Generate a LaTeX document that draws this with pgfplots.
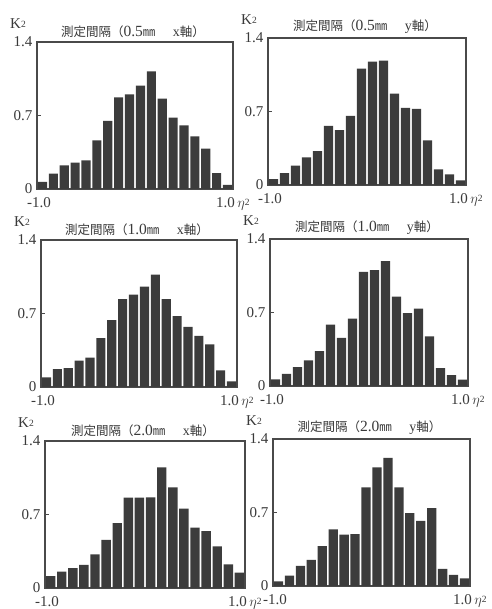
\documentclass[border=0pt]{standalone}
\usepackage{fontspec}
\setmainfont{Liberation Serif}
\newfontfamily\cjk{Noto Sans CJK JP}
\usepackage{pgfplots}
\usepackage{pgfplotstable}
\pgfplotsset{compat=1.18}
\definecolor{barc}{HTML}{3C3C3C}
\definecolor{framec}{HTML}{4A4A4A}
\definecolor{txtc}{HTML}{3A3A3A}

\pgfplotstableread{
x       a     b     c     d     e     f
-0.944  0.067 0.057 0.092 0.063 0.114 0.044
-0.833  0.146 0.114 0.171 0.116 0.155 0.098
-0.722  0.225 0.184 0.180 0.179 0.190 0.192
-0.611  0.250 0.263 0.250 0.245 0.220 0.249
-0.500  0.273 0.323 0.279 0.333 0.320 0.379
-0.389  0.463 0.564 0.466 0.585 0.459 0.539
-0.278  0.648 0.523 0.637 0.459 0.617 0.489
-0.167  0.873 0.659 0.836 0.642 0.861 0.495
-0.056  0.900 1.109 0.880 1.088 0.861 0.940
 0.056  0.984 1.175 0.957 1.104 0.864 1.129
 0.167  1.120 1.185 1.070 1.189 1.149 1.221
 0.278  0.860 0.871 0.836 0.852 0.959 0.940
 0.389  0.680 0.735 0.675 0.695 0.756 0.694
 0.500  0.606 0.725 0.573 0.736 0.576 0.621
 0.611  0.500 0.424 0.488 0.472 0.541 0.741
 0.722  0.384 0.149 0.405 0.170 0.396 0.164
 0.833  0.152 0.101 0.158 0.104 0.225 0.107
 0.944  0.040 0.044 0.054 0.060 0.146 0.073
}\data

\pgfplotsset{panel/.style={
  scale only axis, height=147pt,
  xmin=-1, xmax=1, ymin=0, ymax=1.4,
  ytick={0,0.7,1.4}, yticklabels={0,0.7,1.4},
  xtick=\empty,
  ytick pos=left, tick align=inside, major tick length=4pt,
  axis line style={framec, line width=1.1pt},
  tick style={framec, line width=0.9pt},
  ticklabel style={font=\fontsize{15}{15}\selectfont, text=txtc},
  yticklabel style={xshift=-1pt},
  ybar, bar width=0.094,
  clip=false,
}}
\newcommand{\ttlbody}[2]{\cjk 測定間隔（{\rmfamily\fontsize{15.5}{15}\selectfont #1}㎜\hspace{1.4em}{\rmfamily\fontsize{14}{14}\selectfont #2}軸）}
\newcommand{\ttl}[2]{\node[anchor=south, inner sep=0pt, text=txtc, font=\fontsize{12.5}{14}\selectfont] at (rel axis cs:0.5,1) [xshift=-2pt, yshift=4pt] {\ttlbody{#1}{#2}};}
\newcommand{\decor}{%
  \node[anchor=west, inner sep=0pt, text=txtc, font=\fontsize{15}{15}\selectfont] at (rel axis cs:0,1) [xshift=-27pt, yshift=18pt] {K\raisebox{1pt}{\fontsize{9.5}{9}\selectfont 2}};
  \node[anchor=north, inner sep=0pt, text=txtc, font=\fontsize{15}{15}\selectfont] at (rel axis cs:0,0) [xshift=2pt, yshift=-8pt] {-1.0};
  \node[anchor=north west, inner sep=0pt, text=txtc, font=\fontsize{15}{15}\selectfont] at (rel axis cs:1,0) [xshift=-17pt, yshift=-8pt] {1.0\,$\eta$\raisebox{2pt}{\fontsize{9.5}{9}\selectfont 2}};
}

\begin{document}
\begin{tikzpicture}[x=1pt,y=1pt]
\path[use as bounding box, fill=white] (0,0) rectangle (491,609);

\begin{axis}[panel, width=196pt, at={(37pt,420pt)}, anchor=south west]
\addplot[fill=barc, draw=none] table[x=x, y=a] {\data};
\ttl{0.5}{x}\decor
\end{axis}

\begin{axis}[panel, width=198pt, at={(268pt,424pt)}, anchor=south west]
\addplot[fill=barc, draw=none] table[x=x, y=b] {\data};
\ttl{0.5}{y}\decor
\end{axis}

\begin{axis}[panel, width=196pt, at={(41pt,222pt)}, anchor=south west]
\addplot[fill=barc, draw=none] table[x=x, y=c] {\data};
\ttl{1.0}{x}\decor
\end{axis}

\begin{axis}[panel, width=198pt, at={(270pt,223pt)}, anchor=south west]
\addplot[fill=barc, draw=none] table[x=x, y=d] {\data};
\ttl{1.0}{y}\decor
\end{axis}

\begin{axis}[panel, width=200pt, at={(45pt,21pt)}, anchor=south west]
\addplot[fill=barc, draw=none] table[x=x, y=e] {\data};
\ttl{2.0}{x}\decor
\end{axis}

\begin{axis}[panel, width=197pt, at={(273pt,23pt)}, anchor=south west]
\addplot[fill=barc, draw=none] table[x=x, y=f] {\data};
\ttl{2.0}{y}\decor
\end{axis}
\end{tikzpicture}
\end{document}
